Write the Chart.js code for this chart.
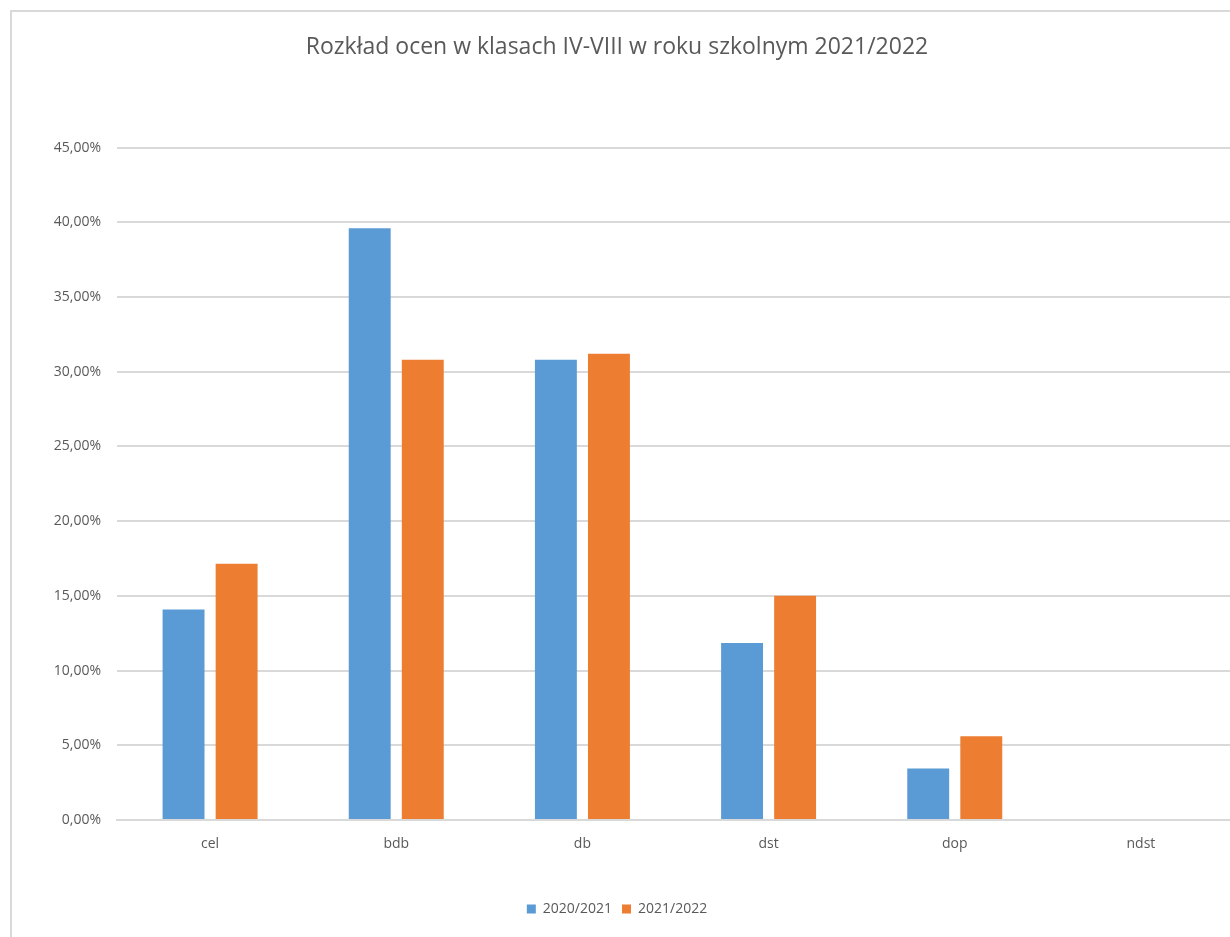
<!DOCTYPE html>
<html>
<head>
<meta charset="utf-8">
<script src="https://cdn.jsdelivr.net/npm/chart.js@4"></script>
<style>
  html, body { margin: 0; padding: 0; background: #fff; overflow: hidden; }
  #frame { position: absolute; left: 10px; top: 10px; width: 1300px; height: 1000px;
           border-left: 2px solid #d9d9d9; border-top: 2px solid #d9d9d9; }
  #wrap { position: absolute; left: 0; top: 0; width: 1240px; height: 937px; }
</style>
</head>
<body>
<div id="frame"></div>
<div id="wrap"><canvas id="gradeChart"></canvas></div>
<script>
// grade distribution, percent of pupils
const categories = ['cel', 'bdb', 'db', 'dst', 'dop', 'ndst'];
const series2021 = [14.08, 39.6, 30.8, 11.85, 3.45, 0];
const series2022 = [17.15, 30.8, 31.2, 15.0, 5.6, 0];
const seriesNames = ['2020/2021', '2021/2022'];
const yTicks = [0, 5, 10, 15, 20, 25, 30, 35, 40, 45];

const fontName = '"Open Sans", sans-serif';
const textColor = '#595959';

function fmtPct(v) {
    return v.toFixed(2).replace('.', ',') + '%';
}

const gradeChart = new Chart(document.getElementById('gradeChart').getContext('2d'), {
    type: 'bar',
    data: {
        labels: categories,
        datasets: [{
            label: seriesNames[0],
            data: series2021,
            backgroundColor: '#5b9bd5',
            categoryPercentage: 0.57,
            barPercentage: 0.79
        }, {
            label: seriesNames[1],
            data: series2022,
            backgroundColor: '#ed7d31',
            categoryPercentage: 0.57,
            barPercentage: 0.79
        }]
    },
    options: {
        responsive: true,
        maintainAspectRatio: false,
        animation: false,
        layout: { padding: { left: 0, right: 6, top: 0, bottom: 11 } },
        plugins: {
            title: {
                display: true,
                text: 'Rozkład ocen w klasach IV-VIII w roku szkolnym 2021/2022',
                color: textColor,
                font: { family: fontName, size: 23, weight: 'normal' },
                padding: { top: 34, bottom: 86 }
            },
            legend: {
                position: 'bottom',
                labels: {
                    color: textColor,
                    font: { family: fontName, size: 14 },
                    boxWidth: 9,
                    boxHeight: 9,
                    padding: 10
                }
            },
            tooltip: { enabled: false }
        },
        scales: {
            x: {
                grid: { display: false, drawTicks: false },
                border: { color: '#d9d9d9', width: 2 },
                ticks: { color: textColor, font: { family: fontName, size: 14 }, padding: 16 },
                afterFit: function (scale) { scale.height = 72; }
            },
            y: {
                min: 0,
                max: 45,
                afterBuildTicks: function (scale) {
                    scale.ticks = yTicks.map(v => ({ value: v }));
                },
                grid: { color: '#d9d9d9', lineWidth: 2, drawTicks: false },
                border: { display: false },
                ticks: {
                    color: textColor,
                    font: { family: fontName, size: 14 },
                    padding: 16,
                    callback: function (value) { return fmtPct(value); }
                },
                afterFit: function (scale) { scale.width = 117; }
            }
        }
    }
});
</script>
</body>
</html>
